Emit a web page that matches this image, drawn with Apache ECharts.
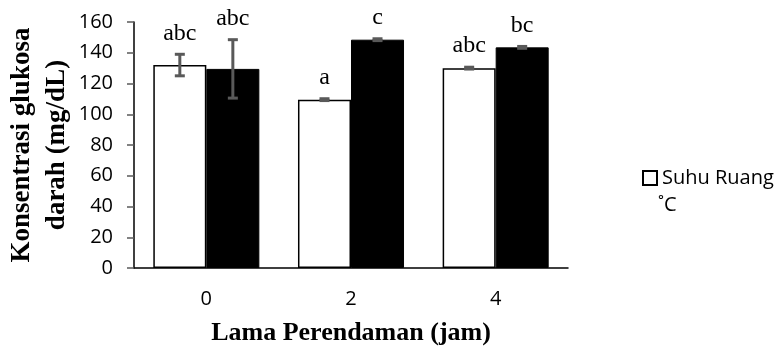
<!DOCTYPE html>
<html>
<head>
<meta charset="utf-8">
<script src="https://cdn.jsdelivr.net/npm/echarts@6/dist/echarts.min.js"></script>
<style>
  html, body { margin: 0; padding: 0; background: #fff; }
  #chart { width: 779px; height: 351px; }
</style>
</head>
<body>
<div id="chart"></div>
<script>
var categories = ["0", "2", "4"];
var suhuRuang = [132, 109.5, 130];
var dingin = [129.5, 148.5, 143.5];
var errRuang = [7, 0.6, 0.6];
var errDingin = [19, 0.6, 0.6];
var hurufRuang = ["abc", "a", "abc"];
var hurufDingin = ["abc", "c", "bc"];
var yTicks = [0, 20, 40, 60, 80, 100, 120, 140, 160];

var catGap = 0.267;

var chart = echarts.init(document.getElementById("chart"));

function errorItem(values, errs, labels, side) {
  return function(params, api) {
    var i = api.value(0);
    var v = values[i], e = errs[i];
    var center = api.coord([i, v]);
    var band = api.size([1, 0])[0];
    var barW = band * (1 - catGap) / 2;
    var x = center[0] + side * barW / 2;
    var top = api.coord([i, v + e])[1];
    var bot = api.coord([i, v - e])[1];
    var cap = 5;
    var style = { stroke: "#595959", lineWidth: 3 };
    return {
      type: "group",
      children: [
        { type: "line", shape: { x1: x, y1: top, x2: x, y2: bot }, style: style },
        { type: "line", shape: { x1: x - cap, y1: top, x2: x + cap, y2: top }, style: style },
        { type: "line", shape: { x1: x - cap, y1: bot, x2: x + cap, y2: bot }, style: style },
        {
          type: "text",
          style: {
            x: x, y: top - 21, text: labels[i],
            align: "center", verticalAlign: "middle",
            font: "24px 'Liberation Serif', 'Times New Roman', serif",
            fill: "#000"
          }
        }
      ]
    };
  };
}

chart.setOption({
  animation: false,
  grid: { left: 134, right: 211, top: 22, bottom: 83, containLabel: false, outerBoundsMode: "none" },
  legend: {
    data: ["Suhu Ruang"],
    left: 642, top: 168,
    padding: 0,
    icon: "rect",
    itemWidth: 14, itemHeight: 14,
    itemGap: 5,
    textStyle: { fontFamily: "Open Sans", fontSize: 20, color: "#000" }
  },
  graphic: [{
    type: "text", left: 658, top: 195,
    style: { text: "˚C", font: "20px 'Open Sans'", fill: "#000" }
  }],
  xAxis: {
    type: "category",
    data: categories,
    name: "Lama Perendaman (jam)",
    nameLocation: "middle",
    nameGap: 52,
    nameMoveOverlap: false,
    nameTextStyle: { fontFamily: "Liberation Serif", fontWeight: "bold", fontSize: 26, color: "#000" },
    axisLine: { lineStyle: { color: "#000", width: 1.5 } },
    axisTick: { show: false },
    axisLabel: { fontFamily: "Open Sans", fontSize: 20, color: "#000", margin: 21 }
  },
  yAxis: {
    type: "value",
    min: 0, max: 160, interval: 20,
    name: "Konsentrasi glukosa\ndarah (mg/dL)",
    nameLocation: "middle",
    nameGap: 59,
    nameMoveOverlap: false,
    nameTextStyle: { fontFamily: "Liberation Serif", fontWeight: "bold", fontSize: 27, color: "#000", lineHeight: 35 },
    axisLine: { show: true, lineStyle: { color: "#000", width: 1.5 } },
    axisTick: { show: true, length: 7, lineStyle: { color: "#595959", width: 1.5 } },
    splitLine: { show: false },
    axisLabel: {
      fontFamily: "Open Sans", fontSize: 20, color: "#000", margin: 21,
      formatter: function(v) { return yTicks.indexOf(v) >= 0 ? String(v) : ""; }
    }
  },
  series: [
    {
      name: "Suhu Ruang", type: "bar", data: suhuRuang,
      barGap: "0%", barCategoryGap: (catGap * 100) + "%",
      itemStyle: { color: "#fff", borderColor: "#000", borderWidth: 1.5 }
    },
    {
      name: "Dingin", type: "bar", data: dingin,
      itemStyle: { color: "#000", borderColor: "#000", borderWidth: 1 }
    },
    {
      type: "custom", data: [[0], [1], [2]], z: 5,
      renderItem: errorItem(suhuRuang, errRuang, hurufRuang, -1)
    },
    {
      type: "custom", data: [[0], [1], [2]], z: 5,
      renderItem: errorItem(dingin, errDingin, hurufDingin, 1)
    }
  ]
});
</script>
</body>
</html>
